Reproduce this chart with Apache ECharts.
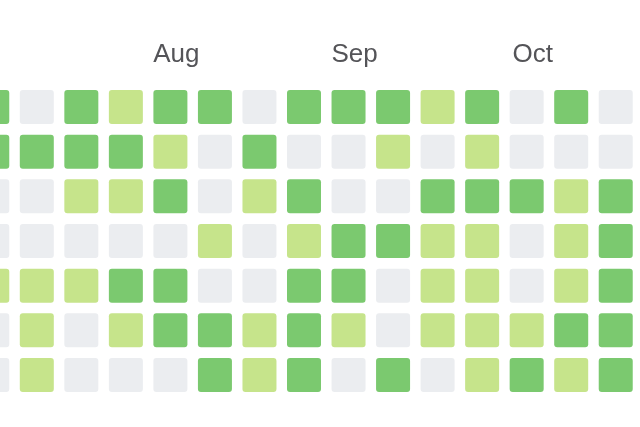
<!DOCTYPE html>
<html>
<head>
<meta charset="utf-8">
<script src="https://cdn.jsdelivr.net/npm/echarts@6/dist/echarts.min.js"></script>
<style>
  html, body { margin: 0; padding: 0; background: #ffffff; overflow: hidden; width: 640px; height: 427px; }
  #wrap { position: relative; width: 640px; height: 427px; overflow: hidden; }
  #chart { position: absolute; left: -30px; top: 0; width: 668px; height: 427px; }
</style>
</head>
<body>
<div id="wrap"><div id="chart"></div></div>
<script>
// Week columns (15, first one partly cut off) and weekday rows (7)
const weeks = ['w0','w1','w2','w3','w4','w5','w6','w7','w8','w9','w10','w11','w12','w13','w14'];
const days = ['d0','d1','d2','d3','d4','d5','d6'];
// Month labels shown above the week where each month begins
const monthLabels = { 4: 'Aug', 8: 'Sep', 12: 'Oct' };
// Activity level per cell: 0 = none, 1 = low, 2 = high (rows top to bottom)
const row0 = [2,0,2,1,2,2,0,2,2,2,1,2,0,2,0];
const row1 = [2,2,2,2,1,0,2,0,0,1,0,1,0,0,0];
const row2 = [0,0,1,1,2,0,1,2,0,0,2,2,2,1,2];
const row3 = [0,0,0,0,0,1,0,1,2,2,1,1,0,1,2];
const row4 = [1,1,1,2,2,0,0,2,2,0,1,1,0,1,2];
const row5 = [0,1,0,1,2,2,1,2,1,0,1,1,1,2,2];
const row6 = [0,1,0,0,0,2,1,2,0,2,0,1,2,1,2];
const levelColors = ['#ebedf0', '#c6e48b', '#7bc96f'];

const rows = [row0, row1, row2, row3, row4, row5, row6];
const data = [];
rows.forEach((r, y) => r.forEach((v, x) => data.push([x, y, v])));

const chart = echarts.init(document.getElementById('chart'), null, { renderer: 'canvas' });
chart.setOption({
  animation: false,
  backgroundColor: '#ffffff',
  grid: { left: 0, right: 0, top: 84.7, height: 312.6, containLabel: false },
  xAxis: {
    type: 'category',
    data: weeks,
    position: 'top',
    axisLine: { show: false },
    axisTick: { show: false },
    splitLine: { show: false },
    axisLabel: {
      interval: 0,
      margin: 17,
      formatter: (val, idx) => monthLabels[idx] ? '{m|' + monthLabels[idx] + '}' : '',
      rich: {
        m: {
          fontFamily: 'Liberation Sans, Arial, sans-serif',
          fontSize: 26,
          color: '#545458',
          padding: [0, 0, 0, 12]
        }
      }
    }
  },
  yAxis: {
    type: 'category',
    data: days,
    inverse: true,
    show: false
  },
  series: [{
    type: 'custom',
    clip: true,
    data: data,
    encode: { x: 0, y: 1 },
    renderItem: function (params, api) {
      const c = api.coord([api.value(0), api.value(1)]);
      const s = 34;
      return {
        type: 'rect',
        shape: { x: c[0] - s / 2, y: c[1] - s / 2, width: s, height: s, r: 3 },
        style: { fill: levelColors[api.value(2)] }
      };
    }
  }]
});
</script>
</body>
</html>
